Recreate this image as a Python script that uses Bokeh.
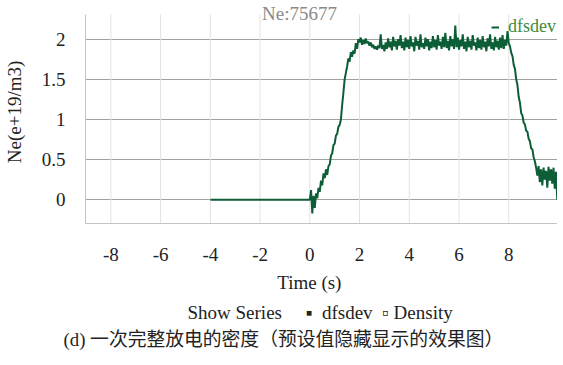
from bokeh.plotting import figure
from bokeh.models import Legend, LegendItem, FixedTicker, Range1d, CustomJSTickFormatter, Title, Label
from bokeh.embed import file_html
from bokeh.resources import INLINE

# ---------------- data ----------------
title_text = "Ne:75677"
series_name = "dfsdev"
hidden_series = "Density"
x_label = "Time (s)"
y_label = "Ne(e+19/m3)"
caption_text = "(d) 一次完整放电的密度（预设值隐藏显示的效果图）"
show_series_text = "Show Series"

x_ticks = [-8, -6, -4, -2, 0, 2, 4, 6, 8]
x_tick_labels = ["-8", "-6", "-4", "-2", "0", "2", "4", "6", "8"]
y_ticks = [0, 0.5, 1, 1.5, 2]
y_tick_labels = ["0", "0.5", "1", "1.5", "2"]

# flat (pre-discharge) part, then sampled signal starting at t = 0
pre_t = [-4.0]
pre_ne = [0.0]
sample_start = 0.0
sample_step = 0.05
ne_samples = [
    0.00, 0.12, -0.17, 0.05, -0.10, 0.08, 0.02, 0.15, 0.10, 0.24,
    0.18, 0.33, 0.27, 0.38, 0.31, 0.42, 0.44, 0.55, 0.58, 0.68,
    0.70, 0.80, 0.82, 0.91, 0.93, 1.00, 1.18, 1.33, 1.50, 1.58,
    1.66, 1.76, 1.72, 1.84, 1.78, 1.86, 1.82, 1.95, 1.88, 2.00,
    1.96, 2.02, 1.93, 1.99, 1.94, 2.01, 1.95, 1.97, 1.92, 1.96,
    1.90, 1.93, 1.88, 1.91, 1.87, 1.92, 1.89, 2.06, 1.88, 1.93,
    1.85, 1.96, 1.88, 2.01, 1.90, 1.97, 1.86, 2.03, 1.91, 1.98,
    1.87, 2.00, 1.92, 2.05, 1.89, 1.97, 1.86, 2.02, 1.90, 1.99,
    1.88, 2.04, 1.91, 1.96, 1.85, 2.03, 1.92, 1.98, 1.87, 2.06,
    1.90, 1.95, 1.88, 2.02, 1.91, 2.00, 1.86, 1.97, 1.89, 2.04,
    1.90, 1.99, 1.87, 2.05, 1.92, 1.97, 1.88, 2.03, 1.90, 2.08,
    1.89, 1.98, 1.86, 2.04, 1.91, 2.00, 1.88, 2.17, 1.90, 2.02,
    1.87, 1.99, 1.91, 2.06, 1.88, 1.97, 1.85, 2.03, 1.90, 1.98,
    1.87, 2.05, 1.92, 1.96, 1.86, 2.02, 1.89, 1.99, 1.87, 2.04,
    1.90, 1.97, 1.85, 2.01, 1.91, 2.06, 1.88, 1.96, 1.86, 2.03,
    1.90, 1.98, 1.87, 2.02, 1.89, 2.05, 1.88, 1.99, 1.92, 2.10,
    1.95, 1.91, 1.83, 1.79, 1.68, 1.63, 1.50, 1.43, 1.28, 1.21,
    1.08, 1.05, 0.96, 0.94, 0.86, 0.85, 0.76, 0.73, 0.64, 0.63,
    0.53, 0.48, 0.40, 0.30, 0.42, 0.22, 0.38, 0.18, 0.40, 0.25,
    0.36, 0.15, 0.41, 0.24, 0.38, 0.20, 0.40, 0.14, 0.35, 0.00,
]

t = pre_t + [round(sample_start + i * sample_step, 3) for i in range(len(ne_samples))]
ne = pre_ne + ne_samples

# ---------------- styling ----------------
SERIF = "Liberation Serif"
MIXED = "Liberation Serif, Noto Sans CJK SC"
LINE_COLOR = "#0c5e36"
LEGEND_TEXT = "#3d8a3d"
TEXT = "#222222"
Y_LO, Y_GRID_TOP, Y_HI = -0.295, 2.307, 2.482   # plot box top sits at Y_GRID_TOP
NB = "\u00a0"

LOOKUP = ("const i = tv.findIndex(v => Math.abs(v - tick) < 1e-9); "
          "return i >= 0 ? tl[i] : '';")

p = figure(
    frame_width=472, frame_height=223,
    x_range=Range1d(-9.02, 9.96), y_range=Range1d(Y_LO, Y_HI),
    output_backend="svg", toolbar_location=None,
    min_border_left=77, min_border_right=0, min_border_top=0, min_border_bottom=0,
)
p.outline_line_color = None

# vertical grid lines at the x ticks, stopping at the top of the plot box
p.xgrid.visible = False
p.segment(x0=x_ticks, y0=[Y_LO] * len(x_ticks), x1=x_ticks, y1=[Y_GRID_TOP] * len(x_ticks),
          line_color="#e2e2e2", line_width=1)
p.ygrid.ticker = FixedTicker(ticks=y_ticks)
p.ygrid.grid_line_color = "#a0a0a0"

r = p.line(t, ne, line_color=LINE_COLOR, line_width=2)

p.xaxis.ticker = FixedTicker(ticks=x_ticks)
p.yaxis.ticker = FixedTicker(ticks=y_ticks)
p.xaxis.formatter = CustomJSTickFormatter(args=dict(tv=x_ticks, tl=x_tick_labels), code=LOOKUP)
p.yaxis.formatter = CustomJSTickFormatter(args=dict(tv=y_ticks, tl=y_tick_labels), code=LOOKUP)
p.yaxis[0].bounds = (Y_LO, Y_GRID_TOP)

for ax in [p.xaxis[0], p.yaxis[0]]:
    ax.major_tick_line_color = None
    ax.minor_tick_line_color = None
    ax.axis_line_color = "#c4c4c4"
    ax.major_label_text_font = SERIF
    ax.major_label_text_font_size = "19px"
    ax.major_label_text_color = TEXT
p.xaxis[0].major_label_standoff = 18
p.yaxis[0].major_label_standoff = 14

p.yaxis[0].axis_label = y_label
p.yaxis[0].axis_label_text_font = SERIF
p.yaxis[0].axis_label_text_font_size = "19px"
p.yaxis[0].axis_label_text_font_style = "normal"
p.yaxis[0].axis_label_text_color = TEXT
p.yaxis[0].axis_label_standoff = 14

# chart title (inside the top strip of the frame)
p.add_layout(Label(text=title_text, x=214, y=210, x_units="screen", y_units="screen",
                   text_font=SERIF, text_font_size="19px", text_color="#8a8a8a",
                   text_align="center", text_baseline="middle"))

# series legend (top right)
legend = Legend(items=[LegendItem(label=series_name, renderers=[r])], location=(406, 186))
legend.background_fill_alpha = 0
legend.border_line_alpha = 0
legend.padding = 0
legend.margin = 0
legend.spacing = 0
legend.glyph_width = 8
legend.glyph_height = 16
legend.label_height = 16
legend.label_standoff = 9
legend.label_text_font = SERIF
legend.label_text_font_size = "18px"
legend.label_text_color = LEGEND_TEXT
p.add_layout(legend, "center")

def below_text(text, offset, standoff, font=SERIF, size="19px"):
    p.add_layout(Title(text=text, align="left", offset=offset, standoff=standoff,
                       text_font=font, text_font_size=size, text_font_style="normal",
                       text_color=TEXT), "below")

below_text(x_label, 191.7, 13)
switch_row = (show_series_text + NB * 5 + "\u25aa" + NB * 2 + series_name + NB * 2
              + "\u25ab" + NB + hidden_series)
below_text(switch_row, 102, 0)
below_text(caption_text, -22, 8, font=MIXED, size="18.8px")

open("out.html", "w").write(file_html(p, INLINE))
